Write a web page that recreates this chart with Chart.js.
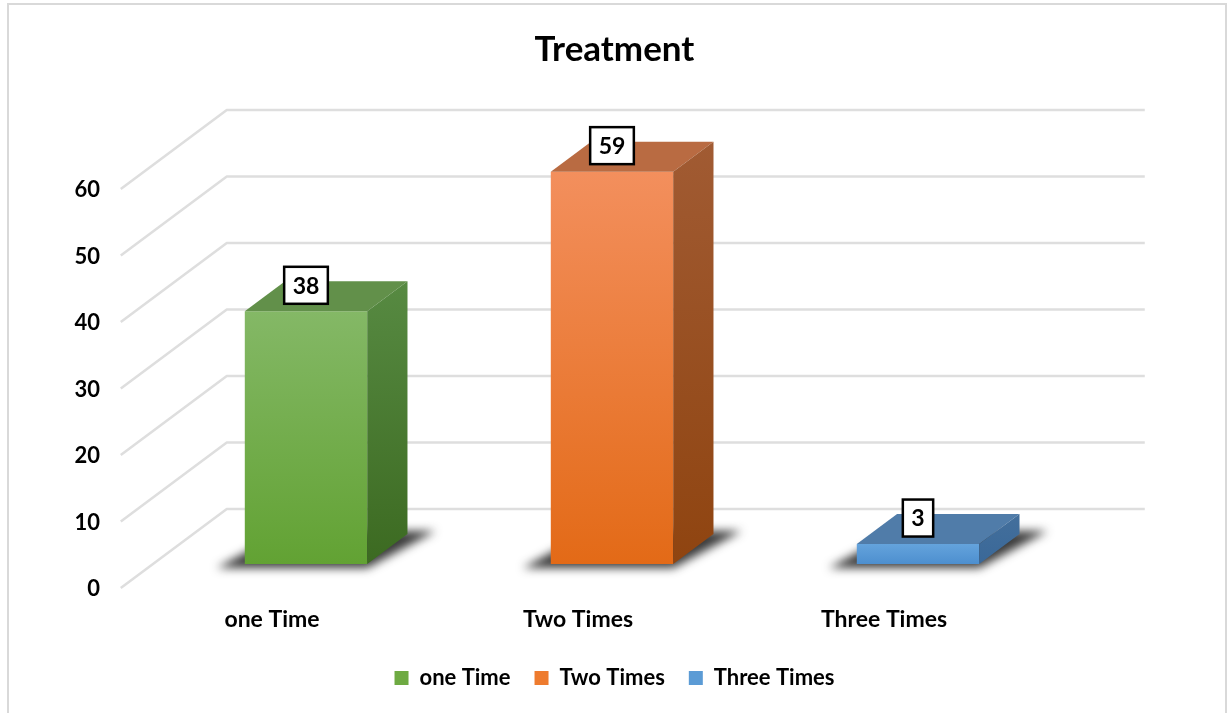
<!DOCTYPE html>
<html>
<head>
<meta charset="utf-8">
<title>Treatment</title>
<script src="https://cdn.jsdelivr.net/npm/chart.js@4.4.1/dist/chart.umd.min.js"></script>
<style>
  html, body { margin: 0; padding: 0; background: #ffffff; }
  canvas { display: block; }
</style>
</head>
<body>
<canvas id="chart" width="1229" height="713"></canvas>
<script>
// ---- data ----
const categories = ['one Time', 'Two Times', 'Three Times'];
const counts = [38, 59, 3];
const yTicks = [0, 10, 20, 30, 40, 50, 60];

// ---- per-bar face colours ----
const frontLight = ['#84b866', '#f38f5d', '#64a3dc'];
const frontDark  = ['#62a233', '#e36a17', '#4d8fcf'];
const topFace    = ['#62904a', '#b96b42', '#507ca9'];
const sideLight  = ['#578a42', '#a15b33', '#436f9c'];
const sideDark   = ['#3c6a21', '#8f4410', '#3a6898'];
const legendColors = ['#6eaa42', '#ee7b2e', '#5b9bd5'];

// ---- 3D projection: the scale describes the bars' front plane ----
const DEPTH_X = -106;   // screen shift from back wall to front floor edge
const DEPTH_Y = 79;
const Z_FRONT = 0.696;  // depth of bar front faces (0 = back wall, 1 = front edge)
const Z_BACK = 0.316;   // depth of bar back faces

const FONT = 'Lato';
Chart.defaults.font.family = FONT;
Chart.defaults.color = '#000000';

const frame3d = {
  id: 'frame3d',
  beforeDraw(chart) {
    const ctx = chart.ctx;
    ctx.save();
    ctx.fillStyle = '#ffffff';
    ctx.fillRect(0, 0, chart.width, chart.height);
    ctx.strokeStyle = '#d9d9d9';
    ctx.lineWidth = 2;
    ctx.strokeRect(8, 4, 1218, 730);
    ctx.restore();
  },
  beforeDatasetsDraw(chart) {
    const {ctx, chartArea: {left, right}, scales: {y}} = chart;
    const bx = -DEPTH_X * Z_FRONT;
    const by = -DEPTH_Y * Z_FRONT;
    ctx.save();
    ctx.strokeStyle = '#dedede';
    ctx.lineWidth = 2.5;
    ctx.lineJoin = 'round';
    yTicks.forEach(v => {
      const py = y.getPixelForValue(v) + by;
      ctx.beginPath();
      ctx.moveTo(left + bx + DEPTH_X, py + DEPTH_Y);
      ctx.lineTo(left + bx, py);
      ctx.lineTo(right + bx, py);
      ctx.stroke();
    });
    ctx.restore();

    // soft floor shadows under each bar
    const sx = -DEPTH_X * (Z_FRONT - Z_BACK);
    const sy = -DEPTH_Y * (Z_FRONT - Z_BACK);
    chart.getDatasetMeta(0).data.forEach(bar => {
      const {x, base, width} = bar.getProps(['x', 'base', 'width'], true);
      const L = x - width / 2, R = x + width / 2;
      ctx.save();
      ctx.filter = 'blur(5px)';
      ctx.fillStyle = 'rgba(25,25,25,0.85)';
      ctx.beginPath();
      ctx.moveTo(L - 28, base + 4);
      ctx.lineTo(R, base + 4);
      ctx.lineTo(R + sx + 28, base + sy - 3);
      ctx.lineTo(L + sx, base + sy - 3);
      ctx.closePath();
      ctx.fill();
      ctx.restore();
    });
  },
  afterDatasetsDraw(chart) {
    const ctx = chart.ctx;
    const sx = -DEPTH_X * (Z_FRONT - Z_BACK);
    const sy = -DEPTH_Y * (Z_FRONT - Z_BACK);
    chart.getDatasetMeta(0).data.forEach((bar, i) => {
      const {x, y: top, base, width} = bar.getProps(['x', 'y', 'base', 'width'], true);
      const L = x - width / 2, R = x + width / 2;
      ctx.save();
      // top face
      ctx.fillStyle = topFace[i];
      ctx.beginPath();
      ctx.moveTo(L, top);
      ctx.lineTo(R, top);
      ctx.lineTo(R + sx, top + sy);
      ctx.lineTo(L + sx, top + sy);
      ctx.closePath();
      ctx.fill();
      // right side face
      const g = ctx.createLinearGradient(0, top + sy, 0, base);
      g.addColorStop(0, sideLight[i]);
      g.addColorStop(1, sideDark[i]);
      ctx.fillStyle = g;
      ctx.beginPath();
      ctx.moveTo(R, top);
      ctx.lineTo(R + sx, top + sy);
      ctx.lineTo(R + sx, base + sy);
      ctx.lineTo(R, base);
      ctx.closePath();
      ctx.fill();

      // value label box
      const text = String(counts[i]);
      ctx.font = 'bold 23px ' + FONT;
      const tw = ctx.measureText(text).width;
      const bw = tw + 17, bh = 37;
      const cy = top - 26;
      ctx.fillStyle = '#ffffff';
      ctx.fillRect(x - bw / 2, cy - bh / 2, bw, bh);
      ctx.strokeStyle = '#000000';
      ctx.lineWidth = 2.5;
      ctx.strokeRect(x - bw / 2, cy - bh / 2, bw, bh);
      ctx.fillStyle = '#000000';
      ctx.textAlign = 'center';
      ctx.textBaseline = 'middle';
      ctx.fillText(text, x, cy + 1);
      ctx.restore();
    });
  }
};

new Chart(document.getElementById('chart'), {
  type: 'bar',
  data: {
    labels: categories,
    datasets: [{
      label: 'Treatment',
      data: counts,
      borderWidth: 0,
      barPercentage: 0.4,
      categoryPercentage: 1,
      backgroundColor(context) {
        const i = context.dataIndex ?? 0;
        const chart = context.chart;
        if (!chart.chartArea || !chart.scales.y) return frontDark[i];
        const yScale = chart.scales.y;
        const g = chart.ctx.createLinearGradient(0, yScale.getPixelForValue(context.raw), 0, yScale.getPixelForValue(0));
        g.addColorStop(0, frontLight[i]);
        g.addColorStop(1, frontDark[i]);
        return g;
      }
    }]
  },
  options: {
    responsive: false,
    animation: false,
    devicePixelRatio: 1,
    layout: { padding: { left: 0, right: 0, top: 0, bottom: 14 } },
    plugins: {
      title: {
        display: true,
        text: 'Treatment',
        color: '#000000',
        font: { family: FONT, size: 35, weight: 'bold' },
        padding: { top: 29, bottom: 94 }
      },
      legend: {
        position: 'bottom',
        labels: {
          boxWidth: 14,
          boxHeight: 14,
          padding: 24,
          color: '#000000',
          font: { family: FONT, size: 22, weight: 'bold' },
          generateLabels() {
            return categories.map((c, i) => ({
              text: c,
              fillStyle: legendColors[i],
              strokeStyle: legendColors[i],
              lineWidth: 0,
              hidden: false,
              index: i,
              fontColor: '#000000'
            }));
          }
        }
      },
      tooltip: { enabled: false }
    },
    scales: {
      x: {
        grid: { display: false, drawTicks: false },
        border: { display: false },
        ticks: {
          color: '#000000',
          font: { family: FONT, size: 23, weight: 'bold' },
          padding: 42,
          labelOffset: -34,
          maxRotation: 0
        },
        afterFit(scale) { scale.height = 79; }
      },
      y: {
        min: 0,
        max: 60,
        grid: { display: false, drawTicks: false },
        border: { display: false },
        ticks: {
          stepSize: 10,
          color: '#000000',
          font: { family: FONT, size: 22, weight: 'bold' },
          padding: 53,
          labelOffset: 25
        },
        afterFit(scale) { scale.width = 153; }
      },
      // empty margin on the right, where the back wall extends past the bars
      yRight: {
        position: 'right',
        display: true,
        grid: { display: false, drawTicks: false },
        border: { display: false },
        ticks: { display: false },
        afterFit(scale) { scale.width = 158; }
      }
    }
  },
  plugins: [frame3d]
});
</script>
</body>
</html>
